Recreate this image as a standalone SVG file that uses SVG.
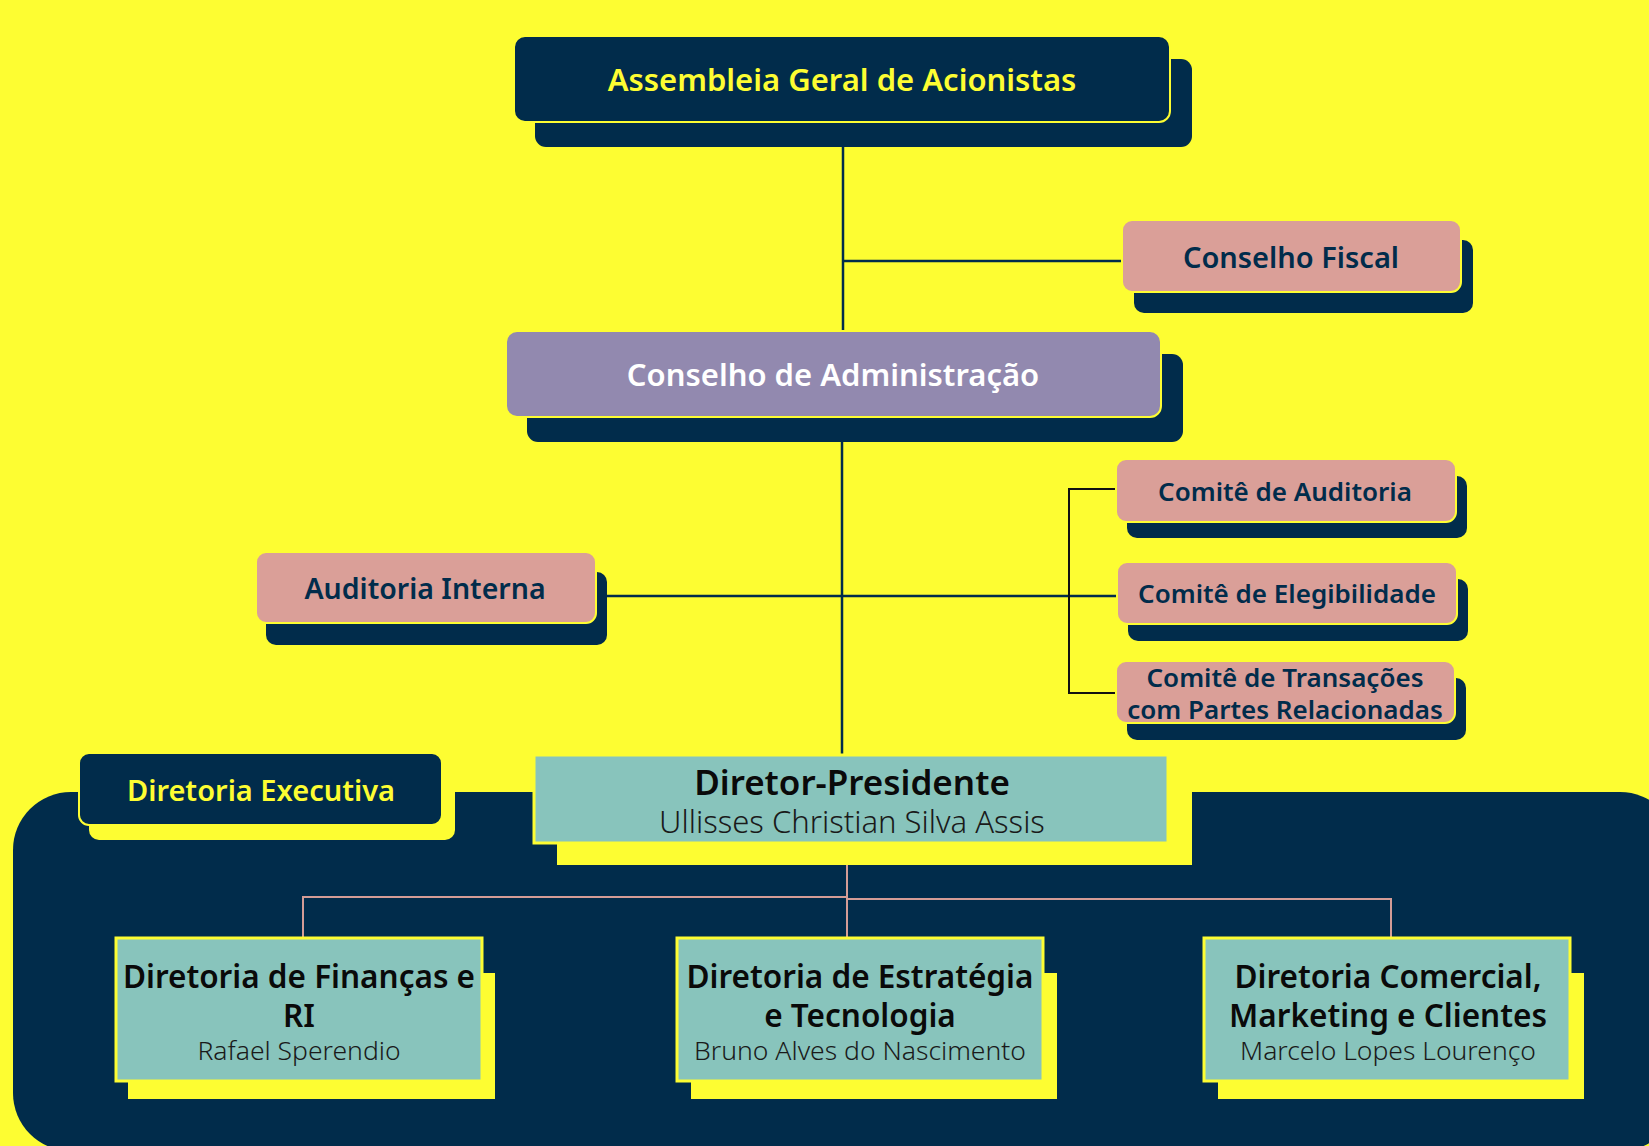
<svg xmlns="http://www.w3.org/2000/svg" width="1649" height="1146" viewBox="0 0 1649 1146">
<style>
.t{font-family:"Noto Sans","Open Sans",sans-serif;text-anchor:middle}
.sb{font-weight:600}
.lt{font-weight:300}
.navy{fill:#012C4B}
.yel{fill:#FDFD32}
.pink{fill:#DA9F98;stroke:#FDFD32;stroke-width:2}
.purp{fill:#9289AF;stroke:#FDFD32;stroke-width:2}
.dark{fill:#012C4B;stroke:#FDFD32;stroke-width:2}
.teal{fill:#88C4BC;stroke:#FDFD32;stroke-width:3}
.ln{stroke:#012C4B;stroke-width:2.5;fill:none}
.lb{stroke:#111111;stroke-width:2;fill:none}
.lp{stroke:#D49C96;stroke-width:2;fill:none}
</style>
<rect x="0" y="0" width="1649" height="1146" class="yel"/>
<rect id="diretoria-area" x="13" y="792" width="1665" height="359" rx="58" class="navy"/>

<g id="connectors">
<line class="ln" x1="843" y1="122" x2="843" y2="331"/>
<line class="ln" x1="843" y1="261" x2="1122" y2="261"/>
<line class="ln" x1="842" y1="417" x2="842" y2="755"/>
<line class="ln" x1="596" y1="596" x2="1116" y2="596"/>
<polyline class="lb" points="1116,489 1069,489 1069,693 1116,693"/>
<line class="lp" x1="847" y1="865" x2="847" y2="938"/>
<polyline class="lp" points="847,897 303,897 303,938"/>
<polyline class="lp" points="847,899 1391,899 1391,938"/>
</g>

<g id="assembleia">
<rect x="535" y="59" width="657" height="88" rx="11" class="navy"/>
<rect x="514" y="36" width="656" height="86" rx="11" class="dark"/>
<text x="842" y="91" class="t sb" font-size="31" fill="#FDFD32">Assembleia Geral de Acionistas</text>
</g>

<g id="conselho-fiscal">
<rect x="1134" y="240" width="339" height="73" rx="10" class="navy"/>
<rect x="1122" y="220" width="339" height="72" rx="10" class="pink"/>
<text x="1291" y="268" class="t sb" font-size="29" fill="#012C4B">Conselho Fiscal</text>
</g>

<g id="conselho-administracao">
<rect x="527" y="354" width="656" height="88" rx="11" class="navy"/>
<rect x="506" y="331" width="655" height="86" rx="11" class="purp"/>
<text x="833" y="386" class="t sb" font-size="31" fill="#FFFFFF">Conselho de Administração</text>
</g>

<g id="comite-auditoria">
<rect x="1127" y="476" width="340" height="62" rx="10" class="navy"/>
<rect x="1116" y="459" width="340" height="63" rx="10" class="pink"/>
<text x="1285" y="501" class="t sb" font-size="26" fill="#012C4B">Comitê de Auditoria</text>
</g>

<g id="comite-elegibilidade">
<rect x="1128" y="579" width="340" height="62" rx="10" class="navy"/>
<rect x="1117" y="562" width="340" height="62" rx="10" class="pink"/>
<text x="1287" y="603" class="t sb" font-size="26" fill="#012C4B">Comitê de Elegibilidade</text>
</g>

<g id="comite-transacoes">
<rect x="1127" y="678" width="339" height="62" rx="10" class="navy"/>
<rect x="1116" y="661" width="339" height="62" rx="10" class="pink"/>
<text x="1285" y="687" class="t sb" font-size="26" fill="#012C4B">Comitê de Transações</text>
<text x="1285" y="719" class="t sb" font-size="26" fill="#012C4B">com Partes Relacionadas</text>
</g>

<g id="auditoria-interna">
<rect x="266" y="572" width="341" height="73" rx="10" class="navy"/>
<rect x="256" y="552" width="340" height="71" rx="10" class="pink"/>
<text x="425" y="599" class="t sb" font-size="28.5" fill="#012C4B">Auditoria Interna</text>
</g>

<g id="diretoria-executiva">
<rect x="89" y="768" width="366" height="72" rx="10" class="yel"/>
<rect x="79" y="753" width="363" height="72" rx="10" class="dark"/>
<text x="261" y="801" class="t sb" font-size="29" fill="#FDFD32">Diretoria Executiva</text>
</g>

<g id="diretor-presidente">
<rect x="557" y="778" width="635" height="87" class="yel"/>
<rect x="534" y="755" width="634" height="88" class="teal"/>
<text x="852" y="795" class="t sb" font-size="35" fill="#0A0A0A">Diretor-Presidente</text>
<text x="852" y="833" class="t lt" font-size="31" fill="#1A1A1A">Ullisses Christian Silva Assis</text>
</g>

<g id="diretoria-financas">
<rect x="128" y="973" width="367" height="126" class="yel"/>
<rect x="116" y="938" width="366" height="143" class="teal"/>
<text x="299" y="988" class="t sb" font-size="31.5" fill="#0A0A0A">Diretoria de Finanças e</text>
<text x="299" y="1027" class="t sb" font-size="31.5" fill="#0A0A0A">RI</text>
<text x="299" y="1060" class="t lt" font-size="26.5" fill="#1A1A1A">Rafael Sperendio</text>
</g>

<g id="diretoria-estrategia">
<rect x="691" y="973" width="366" height="126" class="yel"/>
<rect x="677" y="938" width="366" height="143" class="teal"/>
<text x="860" y="988" class="t sb" font-size="31.5" fill="#0A0A0A">Diretoria de Estratégia</text>
<text x="860" y="1027" class="t sb" font-size="31.5" fill="#0A0A0A">e Tecnologia</text>
<text x="860" y="1060" class="t lt" font-size="26.5" fill="#1A1A1A">Bruno Alves do Nascimento</text>
</g>

<g id="diretoria-comercial">
<rect x="1218" y="973" width="366" height="126" class="yel"/>
<rect x="1204" y="938" width="366" height="143" class="teal"/>
<text x="1388" y="988" class="t sb" font-size="31.5" fill="#0A0A0A">Diretoria Comercial,</text>
<text x="1388" y="1027" class="t sb" font-size="31.5" fill="#0A0A0A">Marketing e Clientes</text>
<text x="1388" y="1060" class="t lt" font-size="26.5" fill="#1A1A1A">Marcelo Lopes Lourenço</text>
</g>
</svg>
